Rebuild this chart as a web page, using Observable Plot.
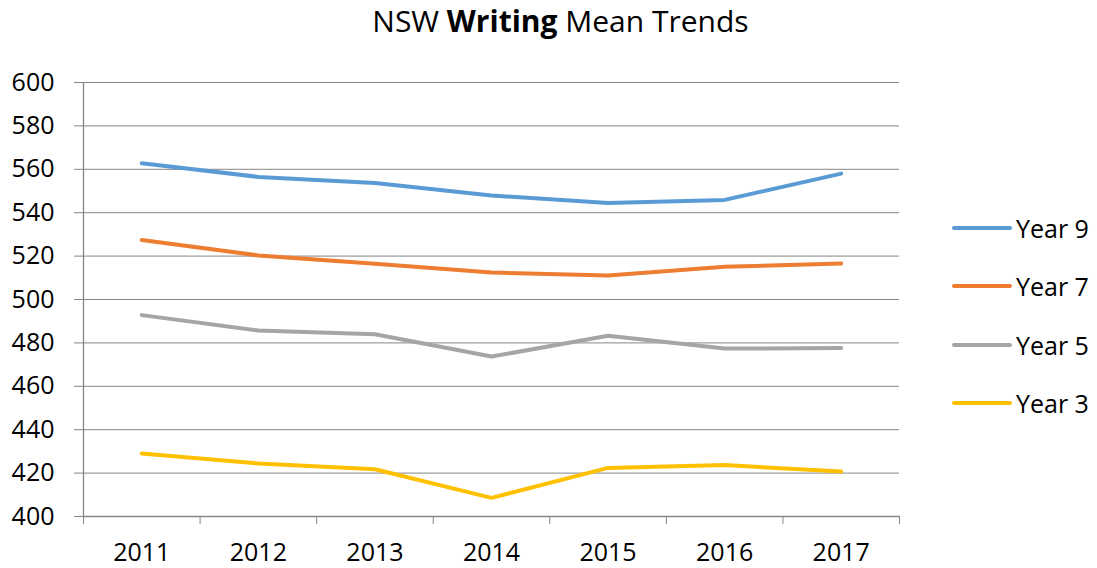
<!DOCTYPE html>
<html>
<head>
<meta charset="utf-8">
<script src="https://cdn.jsdelivr.net/npm/d3@7"></script>
<script src="https://cdn.jsdelivr.net/npm/@observablehq/plot@0.6"></script>
<style>
  html, body { margin: 0; padding: 0; background: #fff; }
  #wrap { position: relative; width: 1097px; height: 568px; font-family: "Open Sans", sans-serif; color: #000; }
  #title { height: 50px; line-height: 42px; text-align: center; font-size: 30px; padding-left: 24px; box-sizing: border-box; }
  #row { display: flex; }
  #legend { position: absolute; left: 952px; top: 199px; }
  .item { display: flex; align-items: center; height: 58.3px; font-size: 25px; }
  .item .sw { width: 60px; height: 4px; border-radius: 2px; margin-right: 4px; }
</style>
</head>
<body>
<div id="wrap">
  <div id="title">NSW <b>Writing</b> Mean Trends</div>
  <div id="row"><div id="chart"></div></div>
  <div id="legend"></div>
</div>
<script>
const years = [2011, 2012, 2013, 2014, 2015, 2016, 2017];
const seriesNames = ["Year 9", "Year 7", "Year 5", "Year 3"];
const seriesColors = ["#5B9BD5", "#ED7D31", "#A5A5A5", "#FFC000"];
const year9 = [562.8, 556.5, 553.7, 547.9, 544.5, 545.9, 558.0];
const year7 = [527.4, 520.3, 516.5, 512.4, 511.1, 515.1, 516.6];
const year5 = [492.8, 485.7, 484.0, 473.7, 483.3, 477.4, 477.6];
const year3 = [429.0, 424.4, 421.8, 408.6, 422.4, 423.7, 420.7];
const yTicks = [400, 420, 440, 460, 480, 500, 520, 540, 560, 580, 600];

const seriesValues = [year9, year7, year5, year3];
const data = [];
seriesNames.forEach((name, i) => {
  years.forEach((yr, j) => data.push({series: name, year: yr, value: seriesValues[i][j]}));
});

const xDomain = [years[0] - 0.5, years[years.length - 1] + 0.5];
const xBoundaries = [...years.map(y => y - 0.5), years[years.length - 1] + 0.5];
const gridColor = "#868686";

const chart = Plot.plot({
  width: 930,
  height: 518,
  marginLeft: 83,
  marginRight: 31,
  marginTop: 32,
  marginBottom: 52,
  style: {fontFamily: "'Open Sans', sans-serif", fontSize: "25px", color: "#000", background: "#fff"},
  x: {type: "linear", domain: xDomain},
  y: {domain: [400, 600]},
  color: {domain: seriesNames, range: seriesColors},
  marks: [
    Plot.gridY(yTicks.slice(1), {stroke: gridColor, strokeOpacity: 1, strokeWidth: 1}),
    Plot.ruleY([400], {stroke: gridColor, strokeWidth: 1.3}),
    Plot.ruleX([xDomain[0]], {stroke: gridColor, strokeWidth: 1.3}),
    Plot.axisY({ticks: yTicks, tickSize: 9, tickPadding: 20, stroke: gridColor, tickFormat: d => d, label: null, fill: "#000", fontSize: 25}),
    Plot.axisX({ticks: xBoundaries, tickSize: 8, stroke: gridColor, tickFormat: () => "", label: null}),
    Plot.axisX({ticks: years, tickSize: 0, tickPadding: 27, tickFormat: d => String(d), label: null, fill: "#000", fontSize: 25}),
    Plot.line(data, {x: "year", y: "value", z: "series", stroke: "series", strokeWidth: 4, strokeLinecap: "round", strokeLinejoin: "round"})
  ]
});
document.getElementById("chart").appendChild(chart);

const legend = document.getElementById("legend");
seriesNames.forEach((name, i) => {
  const item = document.createElement("div");
  item.className = "item";
  const sw = document.createElement("div");
  sw.className = "sw";
  sw.style.background = seriesColors[i];
  const lab = document.createElement("span");
  lab.textContent = name;
  item.appendChild(sw);
  item.appendChild(lab);
  legend.appendChild(item);
});
</script>
</body>
</html>
